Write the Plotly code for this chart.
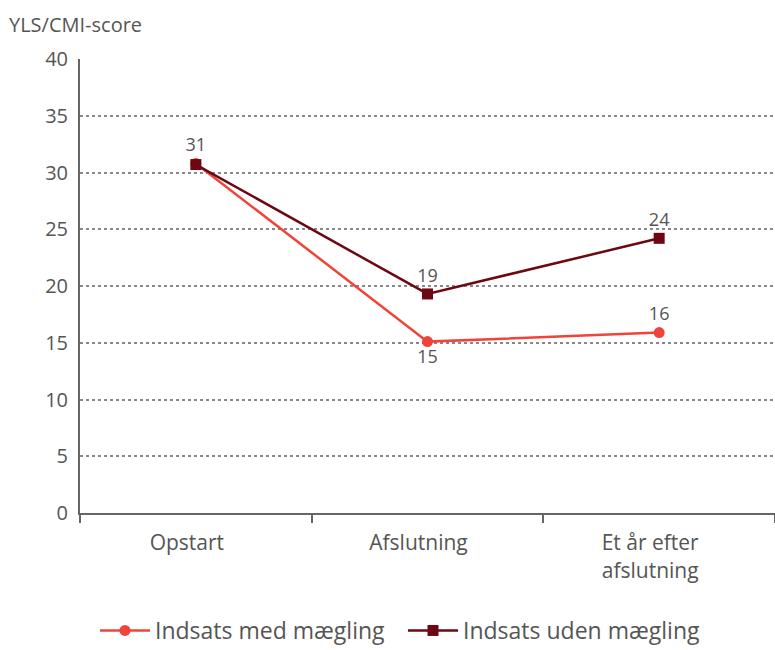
import plotly.graph_objects as go

categories = ["Opstart", "Afslutning", "Et år efter<br>afslutning"]
med_maegling = [30.8, 15.1, 15.9]
uden_maegling = [30.7, 19.3, 24.2]
med_labels = ["31", "15", "16"]
uden_labels = ["", "19", "24"]

font_family = "Open Sans, Noto Sans, sans-serif"
grey = "#555555"

fig = go.Figure()
fig.add_trace(go.Scatter(
    x=categories, y=med_maegling, name="Indsats med mægling",
    mode="lines+markers+text", text=med_labels,
    textposition=["top center", "bottom center", "top center"],
    line=dict(color="#f0443a", width=2.5),
    marker=dict(symbol="circle", size=11, color="#f0443a"),
    textfont=dict(size=18, color=grey, family=font_family),
))
fig.add_trace(go.Scatter(
    x=categories, y=uden_maegling, name="Indsats uden mægling",
    mode="lines+markers+text", text=uden_labels,
    textposition=["top center", "top center", "top center"],
    line=dict(color="#6d0813", width=2.5),
    marker=dict(symbol="square", size=11, color="#6d0813"),
    textfont=dict(size=18, color=grey, family=font_family),
))

fig.update_layout(
    width=775, height=650,
    margin=dict(l=80, r=0, t=59, b=137, autoexpand=False),
    plot_bgcolor="white", paper_bgcolor="white",
    font=dict(family=font_family, size=20, color=grey),
    showlegend=True,
    legend=dict(orientation="h", x=0.52, xref="container", xanchor="center",
                y=0.03, yref="container", yanchor="middle",
                font=dict(size=23, color=grey), itemwidth=50, tracegroupgap=0,
                entrywidth=243),
    xaxis=dict(
        range=[-0.5, 2.5], showline=True, linecolor="#666666", linewidth=2,
        ticks="outside", tickson="boundaries", ticklen=8, tickwidth=2, tickcolor="#666666",
        showgrid=False, tickfont=dict(size=21, color=grey),
        ticklabelstandoff=10, ticklabelshift=-9,
    ),
    yaxis=dict(
        range=[0, 40], dtick=5, showline=True, linecolor="#666666", linewidth=2,
        showgrid=True, gridcolor="#888888", griddash="dot", gridwidth=1.5,
        zeroline=False, tickfont=dict(size=20, color=grey), ticklabelstandoff=6,
    ),
    annotations=[dict(text="YLS/CMI-score", xref="paper", yref="paper",
                      x=-0.105, y=1.075, xanchor="left", yanchor="middle",
                      showarrow=False, font=dict(size=20, color=grey))],
)

fig.write_html("out.html", config={"displayModeBar": False},
               post_script="document.body.style.margin='0';")
